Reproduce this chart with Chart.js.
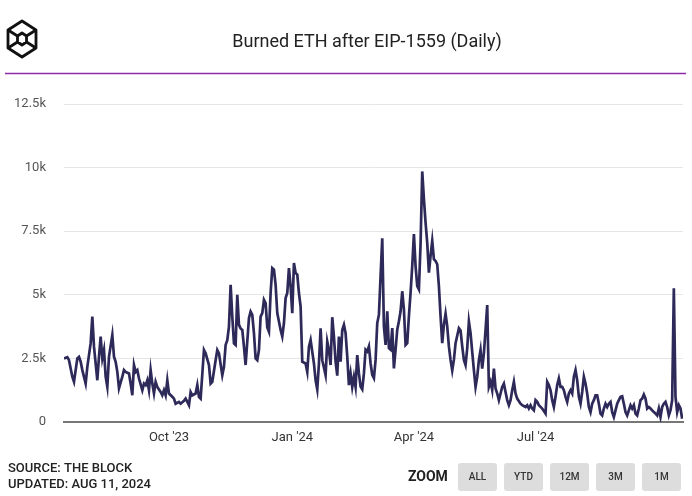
<!DOCTYPE html>
<html><head><meta charset="utf-8">
<script src="https://cdn.jsdelivr.net/npm/chart.js@4.4.1/dist/chart.umd.min.js"></script>
<style>html,body{margin:0;padding:0;background:#fff;}#wrap{position:relative;width:692px;height:496px;}</style>
</head><body><div id="wrap"><canvas id="c" width="692" height="496"></canvas></div>
<script>
const chartTitle = 'Burned ETH after EIP-1559 (Daily)';
const sourceLines = ['SOURCE: THE BLOCK', 'UPDATED: AUG 11, 2024'];
const zoomLabel = 'ZOOM';
const zoomButtons = ['ALL', 'YTD', '12M', '3M', '1M'];
const yTicks = [0, 2500, 5000, 7500, 10000, 12500];
const yTickLabels = ['0', '2.5k', '5k', '7.5k', '10k', '12.5k'];
const xTickDays = [63, 137, 210, 283];
const xTickLabels = ["Oct '23", "Jan '24", "Apr '24", "Jul '24"];

// day offsets from the first point of the series
const days = [0,2,3,5,6,8,9,10,11,13,14,16,17,18,20,21,22,23,24,25,26,27,29,30,31,32,33,35,36,37,39,40,41,42,43,44,45,47,48,49,50,51,52,53,54,55,56,58,59,60,61,62,63,65,66,67,69,70,72,73,75,76,77,79,80,81,82,84,85,87,88,89,91,92,93,95,96,97,98,99,100,101,102,103,104,105,106,107,108,109,111,112,113,114,115,116,117,118,119,120,121,122,123,124,125,126,127,128,130,131,132,133,134,135,136,137,138,139,140,141,142,143,145,146,147,148,150,151,152,153,154,155,157,158,159,160,161,162,163,164,165,166,167,168,169,170,171,172,173,174,175,176,177,178,179,180,181,182,183,184,185,186,187,188,189,190,191,192,193,194,195,196,197,198,199,200,201,202,203,204,205,206,207,208,209,210,211,212,213,214,215,216,217,218,219,220,221,222,223,224,225,226,227,228,229,230,231,232,233,234,235,237,238,239,240,241,242,243,244,245,246,247,248,249,250,251,252,253,254,255,256,257,258,259,260,261,262,263,264,265,266,267,268,269,270,271,272,274,275,277,278,279,280,281,282,283,284,285,287,288,289,290,291,292,293,294,295,296,297,298,299,300,301,302,303,304,305,306,307,308,309,310,311,312,313,314,315,316,317,318,319,320,321,322,323,324,325,326,327,328,329,330,331,332,333,334,335,336,337,338,339,340,341,342,343,344,345,346,347,348,349,350,351,352,353,354,355,356,357,358,359,360,361,362,363,364,365,366,367,368,369,370,371];

// burned ETH per day
const burnedEth = [2500,2550,2430,1780,1580,2500,2560,2370,2040,1510,2170,3100,4140,2960,1640,2570,3360,2500,2830,1780,1380,2570,3420,2570,2370,1970,1320,1780,2040,1970,1910,1510,1050,2240,1970,2040,1710,1250,1510,1450,1640,1250,2040,1510,1120,1580,1380,1180,1050,1250,1050,1640,1120,990,920,720,790,720,830,920,660,1180,1050,1120,1450,990,920,2830,2700,2240,1510,1580,2430,2830,2700,1840,2170,3030,3220,3750,5390,4140,3090,3030,5000,3820,3680,3620,2960,2240,4080,4340,4210,3490,2500,2430,2830,4140,4280,4800,4670,3720,3550,5070,6050,5990,5390,4280,3620,3360,3880,4870,5070,6050,5330,4280,6250,5860,5790,5070,4540,2370,2300,1970,2960,3220,2300,1640,1280,2300,3680,2430,1840,3160,2830,2240,4120,3360,2370,1820,3360,2370,3620,3820,3490,2570,1450,1910,1380,1780,1380,2630,1910,1390,1280,1910,2840,2770,2970,2310,1850,1720,2440,3890,4220,5740,7220,3760,3030,4350,2900,2840,3690,2110,2840,3630,3960,4350,5140,4420,3030,3100,4160,5080,6130,7390,6130,5340,5210,7000,9850,8770,7840,7040,5870,6530,7120,6400,6330,6200,5340,4160,3100,3830,4260,3760,2970,2440,2020,2440,3100,3690,3600,2970,2440,2240,2900,3950,3490,2760,2040,1380,1780,2430,2830,2100,2700,3620,4600,1380,1580,1250,2100,1320,1120,860,1120,1380,1510,1180,860,660,860,1250,1580,1120,920,720,660,590,660,530,660,530,460,860,790,660,530,430,330,1580,1450,1250,860,590,990,1450,1710,1380,1380,1250,990,790,1120,1250,1120,1780,2040,1640,990,720,1180,1780,1510,1120,590,390,720,860,1050,1050,720,330,260,530,720,590,720,790,390,200,460,720,860,990,1010,720,390,260,460,660,530,660,330,260,530,860,920,1080,920,530,590,530,460,390,330,260,530,200,590,720,790,590,260,460,860,5260,990,390,660,530,130];

const points = days.map((d, i) => ({ x: d, y: burnedEth[i] }));

function roundRect(ctx, x, y, w, h, r) {
  ctx.beginPath();
  ctx.moveTo(x + r, y);
  ctx.lineTo(x + w - r, y); ctx.quadraticCurveTo(x + w, y, x + w, y + r);
  ctx.lineTo(x + w, y + h - r); ctx.quadraticCurveTo(x + w, y + h, x + w - r, y + h);
  ctx.lineTo(x + r, y + h); ctx.quadraticCurveTo(x, y + h, x, y + h - r);
  ctx.lineTo(x, y + r); ctx.quadraticCurveTo(x, y, x + r, y);
  ctx.closePath();
}

const decor = {
  id: 'decor',
  beforeDraw(chart) {
    const ctx = chart.ctx;
    ctx.save(); ctx.fillStyle = '#fff'; ctx.fillRect(0, 0, chart.width, chart.height); ctx.restore();
  },
  afterDraw(chart) {
    const ctx = chart.ctx;
    ctx.save();
    // logo
    const cx = 22, cy = 39, rx = 14, ry = 18, rix = 4.5, riy = 6;
    const hex = (ax, ay) => [0,1,2,3,4,5].map(k => {
      const a = -Math.PI / 2 + k * Math.PI / 3;
      return [cx + ax * Math.cos(a) / Math.cos(Math.PI / 6), cy + ay * Math.sin(a)];
    });
    const outer = hex(rx, ry), inner = hex(rix, riy);
    ctx.strokeStyle = '#111'; ctx.lineWidth = 2.8; ctx.lineJoin = 'round';
    ctx.beginPath(); outer.forEach((p, i) => i ? ctx.lineTo(p[0], p[1]) : ctx.moveTo(p[0], p[1])); ctx.closePath(); ctx.stroke();
    ctx.beginPath(); inner.forEach((p, i) => i ? ctx.lineTo(p[0], p[1]) : ctx.moveTo(p[0], p[1])); ctx.closePath(); ctx.stroke();
    ctx.beginPath();
    [1, 2, 4, 5].forEach(k => { ctx.moveTo(outer[k][0], outer[k][1]); ctx.lineTo(inner[k][0], inner[k][1]); });
    ctx.stroke();
    // title
    ctx.fillStyle = '#222';
    ctx.font = '18px Roboto';
    ctx.textAlign = 'center'; ctx.textBaseline = 'middle';
    ctx.fillText(chartTitle, 367, 42);
    // purple rule
    ctx.strokeStyle = '#8e2aa8'; ctx.lineWidth = 1.5;
    ctx.beginPath(); ctx.moveTo(5, 73.5); ctx.lineTo(686, 73.5); ctx.stroke();
    // source
    ctx.textAlign = 'left';
    ctx.font = '500 13px Roboto'; ctx.fillStyle = '#222';
    ctx.fillText(sourceLines[0], 8, 469);
    ctx.fillText(sourceLines[1], 8, 485);
    // zoom
    ctx.font = 'bold 14px Roboto';
    ctx.fillText(zoomLabel, 408, 477);
    ctx.textAlign = 'center';
    zoomButtons.forEach((b, i) => {
      const x = 458 + i * 46;
      ctx.fillStyle = '#dddddd';
      roundRect(ctx, x, 463, 39, 28, 3); ctx.fill();
      ctx.fillStyle = '#333';
      ctx.font = '500 10px Roboto';
      ctx.fillText(b, x + 19.5, 477.5);
    });
    ctx.restore();
  }
};

new Chart(document.getElementById('c'), {
  type: 'line',
  data: { datasets: [{ data: points, borderColor: '#2d2959', borderWidth: 2.7, pointRadius: 0, tension: 0, fill: false }] },
  options: {
    responsive: false, animation: false, devicePixelRatio: 1,
    layout: { padding: { left: 0, right: 9, top: 104, bottom: 0 } },
    plugins: { legend: { display: false }, tooltip: { enabled: false }, title: { display: false } },
    scales: {
      x: {
        type: 'linear', min: 0, max: 371.5,
        afterBuildTicks: s => { s.ticks = xTickDays.map(v => ({ value: v })); },
        afterFit: s => { s.height = 74; },
        ticks: { callback: (v, i) => xTickLabels[i], autoSkip: false, maxRotation: 0, padding: 8, color: '#333', font: { family: 'Roboto', size: 13 } },
        grid: { display: false, drawTicks: false },
        border: { display: true, color: '#777', width: 2 }
      },
      y: {
        min: 0, max: 12500,
        afterBuildTicks: s => { s.ticks = yTicks.map(v => ({ value: v })); },
        afterFit: s => { s.width = 64; },
        ticks: { callback: (v, i) => yTickLabels[i], padding: 18, color: '#555', font: { family: 'Roboto', size: 13 } },
        grid: { color: '#e6e6e6', drawTicks: false },
        border: { display: false }
      }
    }
  },
  plugins: [decor]
});
</script></body></html>
